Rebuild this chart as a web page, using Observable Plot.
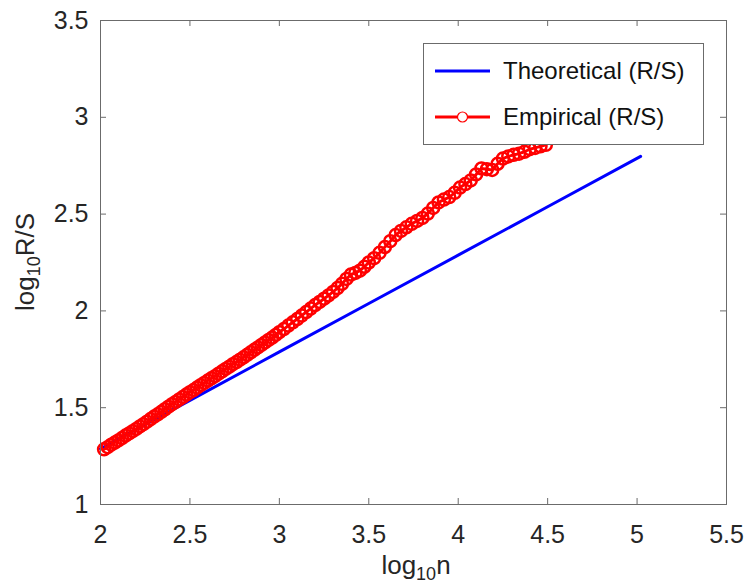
<!DOCTYPE html>
<html><head><meta charset="utf-8">
<script src="https://cdn.jsdelivr.net/npm/d3@7"></script>
<script src="https://cdn.jsdelivr.net/npm/@observablehq/plot@0.6"></script>
<style>body{margin:0;background:#fff;}</style>
</head><body><div id="chart"></div>
<script>
// ---- data ----
const xTicks = [2, 2.5, 3, 3.5, 4, 4.5, 5, 5.5];
const yTicks = [1, 1.5, 2, 2.5, 3, 3.5];
const seriesNames = ["Theoretical (R/S)", "Empirical (R/S)"];

const theoX = [2.00, 2.50, 3.00, 3.50, 4.00, 4.50, 5.02];
const theoY = [1.288, 1.538, 1.788, 2.038, 2.288, 2.538, 2.798];

const empX = [
  2.02, 2.04, 2.06, 2.08, 2.10, 2.12, 2.14, 2.16, 2.18, 2.20,
  2.22, 2.24, 2.26, 2.28, 2.30, 2.32, 2.34, 2.36, 2.38, 2.40,
  2.42, 2.44, 2.46, 2.48, 2.50, 2.52, 2.54, 2.56, 2.58, 2.60,
  2.62, 2.64, 2.66, 2.68, 2.70, 2.72, 2.74, 2.76, 2.78, 2.80,
  2.82, 2.84, 2.86, 2.88, 2.90, 2.92, 2.94, 2.96, 2.98, 3.00,
  3.025, 3.050, 3.075, 3.100, 3.125, 3.150, 3.175, 3.200, 3.225, 3.250,
  3.275, 3.300, 3.325, 3.350, 3.375, 3.400, 3.425, 3.450, 3.475, 3.500,
  3.53, 3.56, 3.59, 3.62, 3.65, 3.68, 3.71, 3.74, 3.77, 3.80,
  3.83, 3.86, 3.89, 3.92, 3.95, 3.98, 4.01, 4.04, 4.07, 4.10,
  4.13, 4.16, 4.19, 4.22, 4.25, 4.28, 4.31, 4.34, 4.37, 4.40,
  4.43, 4.46, 4.49
];
const empY = [
  1.285, 1.296, 1.309, 1.320, 1.331, 1.343, 1.356, 1.367, 1.379, 1.390,
  1.403, 1.415, 1.428, 1.441, 1.454, 1.466, 1.479, 1.492, 1.505, 1.518,
  1.530, 1.543, 1.555, 1.568, 1.580, 1.591, 1.604, 1.616, 1.628, 1.640,
  1.652, 1.663, 1.676, 1.688, 1.700, 1.712, 1.725, 1.736, 1.748, 1.760,
  1.773, 1.786, 1.799, 1.811, 1.824, 1.837, 1.850, 1.862, 1.876, 1.890,
  1.906, 1.924, 1.941, 1.958, 1.976, 1.994, 2.012, 2.030, 2.046, 2.063,
  2.080, 2.098, 2.118, 2.140, 2.165, 2.188, 2.196, 2.208, 2.228, 2.250,
  2.272, 2.300, 2.330, 2.360, 2.392, 2.413, 2.432, 2.450, 2.465, 2.480,
  2.503, 2.532, 2.560, 2.575, 2.588, 2.610, 2.637, 2.655, 2.674, 2.705,
  2.736, 2.732, 2.728, 2.760, 2.787, 2.798, 2.806, 2.812, 2.822, 2.835,
  2.842, 2.850, 2.858
];

// ---- layout / style ----
const W = 747, H = 583, mL = 100, mR = 21, mT = 20, mB = 79;
const pw = W - mL - mR, ph = H - mT - mB;
const textColor = "#262626", frameColor = "#6b6b6b";
const blue = "#0000ff", red = "#ff0000";
const font = "'Liberation Sans', Arial, Helvetica, sans-serif";

const theo = theoX.map((x, i) => ({x, y: theoY[i]}));
const emp = empX.map((x, i) => ({x, y: empY[i]}));
const fmt = d => String(d);

const chart = Plot.plot({
  width: W, height: H,
  marginLeft: mL, marginRight: mR, marginTop: mT, marginBottom: mB,
  x: {domain: [2, 5.5]},
  y: {domain: [1, 3.5]},
  style: {fontFamily: font, color: textColor, background: "#fff"},
  marks: [
    Plot.line(theo, {x: "x", y: "y", stroke: blue, strokeWidth: 3}),
    Plot.line(emp, {x: "x", y: "y", stroke: red, strokeWidth: 3}),
    Plot.dot(emp, {x: "x", y: "y", r: 6, stroke: red, strokeWidth: 2.5, fill: "none"}),
    Plot.frame({stroke: frameColor, strokeWidth: 1}),
    Plot.ruleX(xTicks, {stroke: frameColor, insetTop: ph - 6}),
    Plot.ruleX(xTicks, {stroke: frameColor, insetBottom: ph - 6}),
    Plot.ruleY(yTicks, {stroke: frameColor, insetRight: pw - 6}),
    Plot.ruleY(yTicks, {stroke: frameColor, insetLeft: pw - 6}),
    Plot.axisX({ticks: xTicks, tickSize: 0, tickPadding: 21, fontSize: 25, label: null, fill: textColor, tickFormat: fmt}),
    Plot.axisY({ticks: yTicks, tickSize: 0, tickPadding: 12, fontSize: 25, label: null, fill: textColor, tickFormat: fmt})
  ]
});
document.getElementById("chart").appendChild(chart);

const svg = d3.select(chart);
// x label with subscript
const xl = svg.append("text").attr("x", 416).attr("y", 574)
  .attr("text-anchor", "middle").attr("font-size", 26).attr("fill", textColor).attr("font-family", font);
xl.append("tspan").text("log");
xl.append("tspan").attr("font-size", 18).attr("dy", 6).text("10");
xl.append("tspan").attr("dy", -6).text("n");
// y label
const yl = svg.append("text").attr("transform", "translate(34,262) rotate(-90)")
  .attr("text-anchor", "middle").attr("font-size", 26).attr("fill", textColor).attr("font-family", font);
yl.append("tspan").text("log");
yl.append("tspan").attr("font-size", 18).attr("dy", 6).text("10");
yl.append("tspan").attr("dy", -6).text("R/S");

// legend
const lg = svg.append("g").attr("font-family", font).attr("text-anchor", "start");
lg.append("rect").attr("x", 423.5).attr("y", 43.5).attr("width", 280).attr("height", 101)
  .attr("fill", "#fff").attr("stroke", frameColor).attr("stroke-width", 1);
const rows = [{name: seriesNames[0], color: blue, w: 3, marker: false, y: 71},
              {name: seriesNames[1], color: red, w: 3, marker: true, y: 117}];
rows.forEach(r => {
  lg.append("line").attr("x1", 435).attr("x2", 490).attr("y1", r.y).attr("y2", r.y)
    .attr("stroke", r.color).attr("stroke-width", r.w);
  if (r.marker) lg.append("circle").attr("cx", 462.5).attr("cy", r.y).attr("r", 5)
    .attr("fill", "#fff").attr("stroke", r.color).attr("stroke-width", 1.2);
  lg.append("text").attr("x", 503).attr("y", r.y).attr("dy", "0.35em")
    .attr("text-anchor", "start").attr("font-size", 24).attr("fill", "#111").text(r.name);
});
</script>
</body></html>
